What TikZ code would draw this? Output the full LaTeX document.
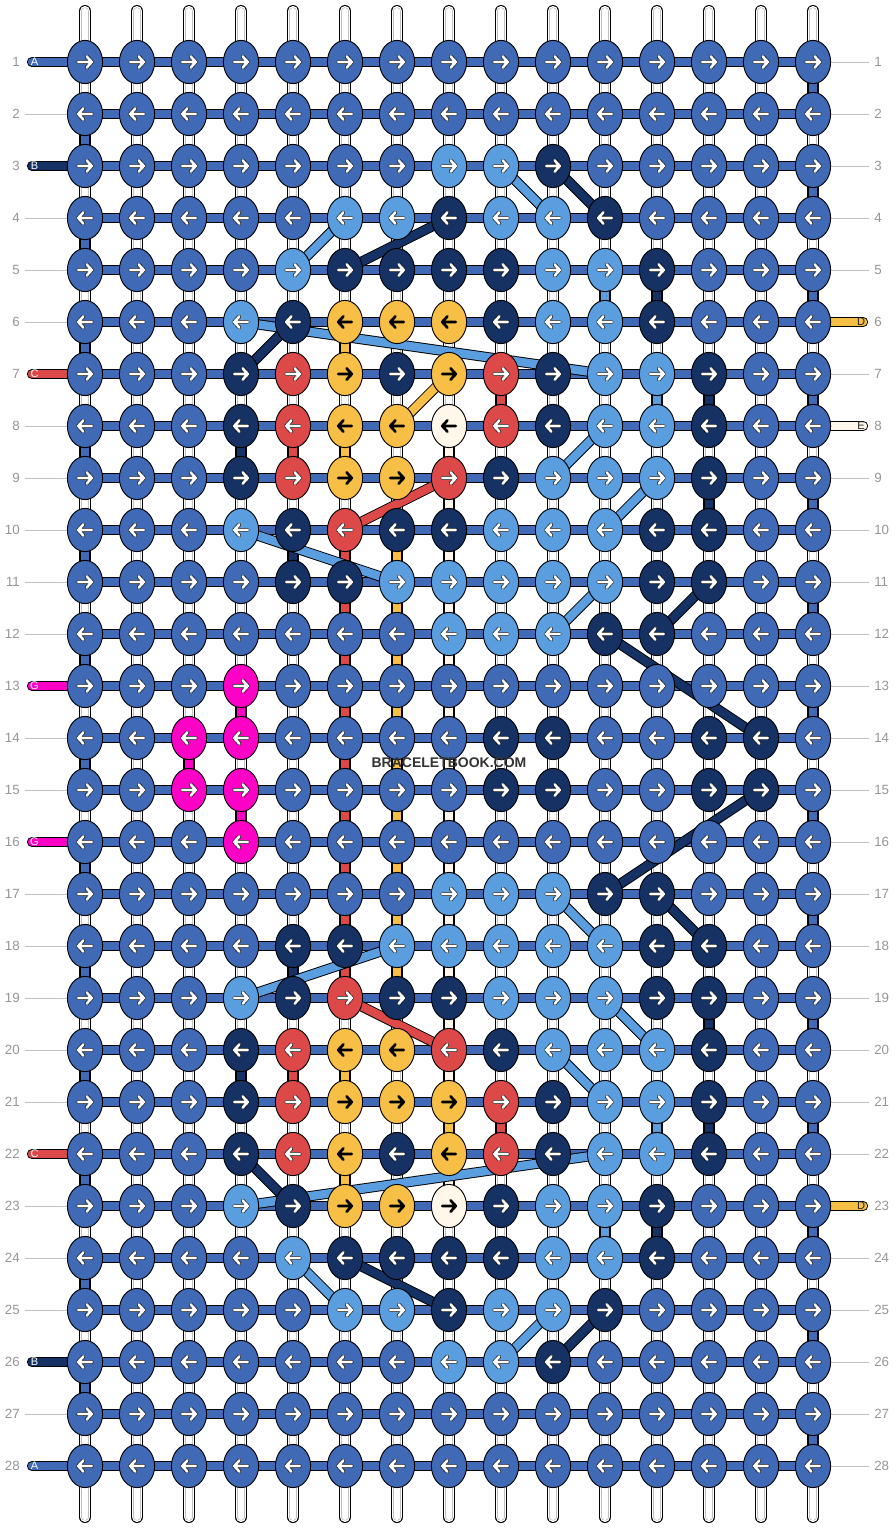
\documentclass[tikz,border=0pt]{standalone}
\usepackage{fontspec}
\setmainfont{Liberation Sans}
\usepackage{tikz}
\usetikzlibrary{positioning,shapes.geometric,backgrounds}
\definecolor{brinM}{RGB}{64,105,182}
\definecolor{brinN}{RGB}{22,49,99}
\definecolor{brinL}{RGB}{90,158,224}
\definecolor{brinY}{RGB}{248,191,71}
\definecolor{brinR}{RGB}{221,73,72}
\definecolor{brinW}{RGB}{255,247,233}
\definecolor{brinP}{RGB}{255,0,199}
\definecolor{figGris}{RGB}{150,150,150}
\definecolor{figTrait}{RGB}{192,192,192}

\begin{document}
\begin{tikzpicture}[
  x=0.75pt, y=-0.75pt, every node/.style={font=\fontsize{10}{12}\selectfont},
  noeud/.style={ellipse, draw=black, line width=0.7pt, minimum width=26.4pt,
                minimum height=32.4pt, inner sep=0pt},
  barre/.style={draw=black, line width=0.7pt, double distance=6.3pt},
  fil/.style={draw=black, line width=0.7pt, double=white, double distance=7.6pt, line cap=round},
  filgris/.style={draw=figTrait, line width=0.45pt, double=white, double distance=4.5pt, line cap=round},
  repere/.style={draw=figTrait, line width=0.6pt},
  num/.style={text=figGris, inner sep=1.5pt},
  lettre/.style={font=\fontsize{8.3}{9}\selectfont, inner sep=0pt},
  flclair/.style={draw=white, line width=2pt, line cap=round, line join=round,
                  preaction={draw=black, line width=2.9pt, line cap=round, line join=round}},
  flsombre/.style={draw=black, line width=2pt, line cap=round, line join=round},
  flecheM/.style={flclair}, flecheN/.style={flclair}, flecheL/.style={flclair},
  flecheR/.style={flclair}, flecheP/.style={flclair},
  flecheY/.style={flsombre}, flecheW/.style={flsombre}
]
% Noeuds : un rang par ligne, rangs impairs vers la droite
\foreach \ligne [count=\r] in {
  {M,M,M,M,M,M,M,M,M,M,M,M,M,M,M},
  {M,M,M,M,M,M,M,M,M,M,M,M,M,M,M},
  {M,M,M,M,M,M,M,L,L,N,M,M,M,M,M},
  {M,M,M,M,M,L,L,N,L,L,N,M,M,M,M},
  {M,M,M,M,L,N,N,N,N,L,L,N,M,M,M},
  {M,M,M,L,N,Y,Y,Y,N,L,L,N,M,M,M},
  {M,M,M,N,R,Y,N,Y,R,N,L,L,N,M,M},
  {M,M,M,N,R,Y,Y,W,R,N,L,L,N,M,M},
  {M,M,M,N,R,Y,Y,R,N,L,L,L,N,M,M},
  {M,M,M,L,N,R,N,N,L,L,L,N,N,M,M},
  {M,M,M,M,N,N,L,L,L,L,L,N,N,M,M},
  {M,M,M,M,M,M,M,L,L,L,N,N,M,M,M},
  {M,M,M,P,M,M,M,M,M,M,M,M,M,M,M},
  {M,M,P,P,M,M,M,M,N,N,M,M,N,N,M},
  {M,M,P,P,M,M,M,M,N,N,M,M,N,N,M},
  {M,M,M,P,M,M,M,M,M,M,M,M,M,M,M},
  {M,M,M,M,M,M,M,L,L,L,N,N,M,M,M},
  {M,M,M,M,N,N,L,L,L,L,L,N,N,M,M},
  {M,M,M,L,N,R,N,N,L,L,L,N,N,M,M},
  {M,M,M,N,R,Y,Y,R,N,L,L,L,N,M,M},
  {M,M,M,N,R,Y,Y,Y,R,N,L,L,N,M,M},
  {M,M,M,N,R,Y,N,Y,R,N,L,L,N,M,M},
  {M,M,M,L,N,Y,Y,W,N,L,L,N,M,M,M},
  {M,M,M,M,L,N,N,N,N,L,L,N,M,M,M},
  {M,M,M,M,M,L,L,N,L,L,N,M,M,M,M},
  {M,M,M,M,M,M,M,L,L,N,M,M,M,M,M},
  {M,M,M,M,M,M,M,M,M,M,M,M,M,M,M},
  {M,M,M,M,M,M,M,M,M,M,M,M,M,M,M}}{
  \foreach \coul [count=\c] in \ligne {
    \node[noeud, fill=brin\coul] (k\r-\c) at (52*\c+33, 52*\r+10) {};
    \ifodd\r\relax \def\sens{1}\else \def\sens{-1}\fi
    \draw[fleche\coul, shift={(k\r-\c.center)}, xscale=\sens]
      (-6.8,0) -- (6.8,0) (1.6,-5.6) -- (6.8,0) -- (1.6,5.6);
  }
}

\begin{scope}[on background layer]
  \fill[white] (0,0) rectangle (896,1528);
  \foreach \c in {1,...,15}{
    \coordinate (h\c) at (52*\c+33,11);
    \coordinate (b\c) at (52*\c+33,1517);
    \draw[fil] (h\c) -- (b\c);
    \draw[filgris] (h\c) -- (b\c);
  }
  % passages verticaux entre deux rangs
  \foreach \r in {2,4,...,26}{
    \pgfmathtruncatemacro\s{\r+1}
    \draw[barre, double=brinM] (k\r-1.center) -- (k\s-1.center);
  }
  \foreach \r in {1,3,...,27}{
    \pgfmathtruncatemacro\s{\r+1}
    \draw[barre, double=brinM] (k\r-15.center) -- (k\s-15.center);
  }
  \foreach \r/\c/\coul in {5/11/L, 5/12/N, 6/6/Y, 7/9/R, 7/12/L, 7/13/N, 8/4/N, 8/5/R,
      8/6/Y, 9/13/N, 10/5/N, 13/4/P, 14/3/P, 15/4/P, 18/5/N, 19/13/N, 20/4/N, 20/5/R,
      20/6/Y, 21/8/Y, 21/9/R, 21/12/L, 21/13/N, 22/6/Y, 22/8/W, 23/11/L, 23/12/N}{
    \pgfmathtruncatemacro\s{\r+1}
    \draw[barre, double=brin\coul] (k\r-\c.center) -- (k\s-\c.center);
  }
  \foreach \r in {10,...,18}{
    \pgfmathtruncatemacro\s{\r+1}
    \draw[barre, double=brinR] (k\r-6.center) -- (k\s-6.center);
    \draw[barre, double=brinY] (k\r-7.center) -- (k\s-7.center);
  }
  \foreach \r in {8,...,20}{
    \pgfmathtruncatemacro\s{\r+1}
    \draw[barre, double=brinW] (k\r-8.center) -- (k\s-8.center);
  }
  % rangs horizontaux et bouts de fils
  \foreach \r in {1,...,28}
    \draw[barre, double=brinM] (k\r-1.center) -- (k\r-15.center);
  \foreach \r/\coul in {1/M, 3/N, 7/R, 13/P, 16/P, 22/R, 26/N, 28/M}{
    \coordinate (sg\r) at (32, 52*\r+10);
    \draw[barre, double=brin\coul, line cap=round] (sg\r) -- (k\r-1.center);
  }
  \foreach \r/\coul in {6/Y, 8/W, 23/Y}{
    \coordinate (sd\r) at (863, 52*\r+10);
    \draw[barre, double=brin\coul, line cap=round] (k\r-15.center) -- (sd\r);
  }
  % brins en diagonale
  \foreach \a/\b/\coul in {3-9/4-10/L, 3-10/4-11/N, 5-5/4-6/L, 5-6/4-8/N, 7-4/6-5/N,
      6-4/7-11/L, 8-7/7-8/Y, 10-6/9-8/R, 10-4/11-7/L, 9-10/8-11/L, 10-11/9-12/L,
      12-10/11-11/L, 12-12/11-13/N, 12-11/14-14/N, 15-14/17-11/N, 17-12/18-13/N,
      17-10/18-11/L, 19-11/20-12/L, 20-10/21-11/L, 19-4/18-7/L, 19-6/20-8/R,
      22-4/23-5/N, 23-4/22-11/L, 24-5/25-6/L, 24-6/25-8/N, 26-9/25-10/L, 26-10/25-11/N}
    \draw[barre, double=brin\coul] (k\a.center) -- (k\b.center);
\end{scope}

% numeros de rangs
\foreach \r in {1,...,28}{
  \node[num, anchor=east] (gg\r) at (22, 52*\r+10) {\r};
  \node[num, anchor=west] (gd\r) at (872, 52*\r+10) {\r};
}
\foreach \r in {2,4,5,6,8,9,10,11,12,14,15,17,18,19,20,21,23,24,25,27}
  \draw[repere, shorten <=2pt] (gg\r) -- (k\r-1);
\foreach \r in {1,2,3,4,5,7,9,10,11,12,13,14,15,16,17,18,19,20,21,22,24,25,26,27,28}
  \draw[repere, shorten >=2pt] (k\r-15) -- (gd\r);
\foreach \r/\nom in {1/A, 3/B, 7/C, 13/G, 16/G, 22/C, 26/B, 28/A}
  \node[lettre, text=white] (lg\r) at (34.5, 52*\r+10) {\nom};
\foreach \r/\nom in {6/D, 8/E, 23/D}
  \node[lettre, text=black!85] (ld\r) at (861, 52*\r+10) {\nom};

\node[font=\bfseries\fontsize{10.5}{12}\selectfont, text=black!80] (marque) at (449,763) {BRACELETBOOK.COM};
\useasboundingbox (0,0) rectangle (896,1528);
\end{tikzpicture}
\end{document}
